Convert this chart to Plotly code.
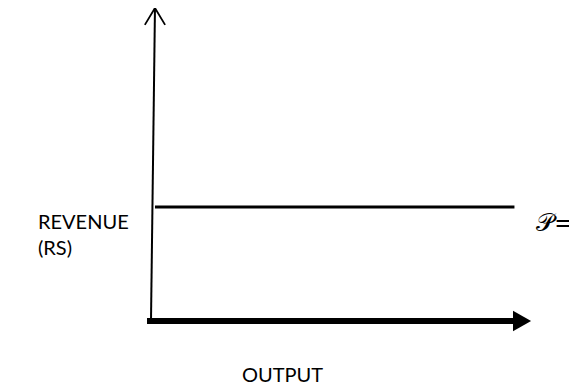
import plotly.graph_objects as go

# ---- data (diagram units) ----
output_extent = [0, 10]          # horizontal axis: output
revenue_extent = [0, 10]         # vertical axis: revenue
price_output = [0.11, 10.04]     # span of the price line
price_level = [3.64, 3.64]       # constant price P
axis_labels = ["REVENUE<br>(RS)", "OUTPUT"]
price_label = "\U0001D4AB="

# ---- figure ----
fig = go.Figure()

# vertical (revenue) axis, slightly leaning like the original
fig.add_trace(go.Scatter(x=[output_extent[0], output_extent[0] + 0.11],
                         y=[revenue_extent[0], revenue_extent[1]],
                         mode="lines", line=dict(color="black", width=2),
                         cliponaxis=False, hoverinfo="skip"))
# open arrow head on top of the revenue axis
tx, ty = output_extent[0] + 0.11, revenue_extent[1]
fig.add_trace(go.Scatter(x=[tx - 0.28, tx, tx + 0.28],
                         y=[ty - 0.54, ty, ty - 0.54],
                         mode="lines", line=dict(color="black", width=1.8),
                         cliponaxis=False, hoverinfo="skip"))

# horizontal (output) axis – thick arrow
fig.add_trace(go.Scatter(x=[output_extent[0] - 0.11, output_extent[1]],
                         y=[revenue_extent[0], revenue_extent[0]],
                         mode="lines", line=dict(color="black", width=6),
                         cliponaxis=False, hoverinfo="skip"))
hx = output_extent[1]
fig.add_trace(go.Scatter(x=[hx, hx + 0.5, hx, hx],
                         y=[0.33, 0, -0.33, 0.33],
                         mode="lines", fill="toself", fillcolor="black",
                         line=dict(color="black", width=0),
                         cliponaxis=False, hoverinfo="skip"))

# price line
fig.add_trace(go.Scatter(x=price_output, y=price_level, mode="lines",
                         line=dict(color="black", width=3),
                         cliponaxis=False, hoverinfo="skip"))

font = dict(family="Lato, Carlito, Calibri, sans-serif", size=20, color="black")
fig.add_annotation(x=-3.18, y=2.78, text=axis_labels[0], showarrow=False,
                   xanchor="left", yanchor="middle", align="left", font=font,
                   xref="x", yref="y")
fig.add_annotation(x=3.62, y=-1.70, text=axis_labels[1], showarrow=False,
                   xanchor="center", yanchor="middle", font=font)
fig.add_annotation(x=10.58, y=3.15, text=price_label, showarrow=False,
                   xanchor="left", yanchor="middle",
                   font=dict(family="DejaVu Serif, serif", size=25, color="black"))

# the page body adds an 8px margin, so the figure is 8px smaller on each side
fig.update_layout(
    width=569, height=382,
    margin=dict(l=0, r=0, t=0, b=0),
    paper_bgcolor="white", plot_bgcolor="white",
    showlegend=False,
    xaxis=dict(range=[-3.950, 11.768], visible=False, fixedrange=True),
    yaxis=dict(range=[-2.204, 10.0], visible=False, fixedrange=True),
)

fig.write_html("out.html")
